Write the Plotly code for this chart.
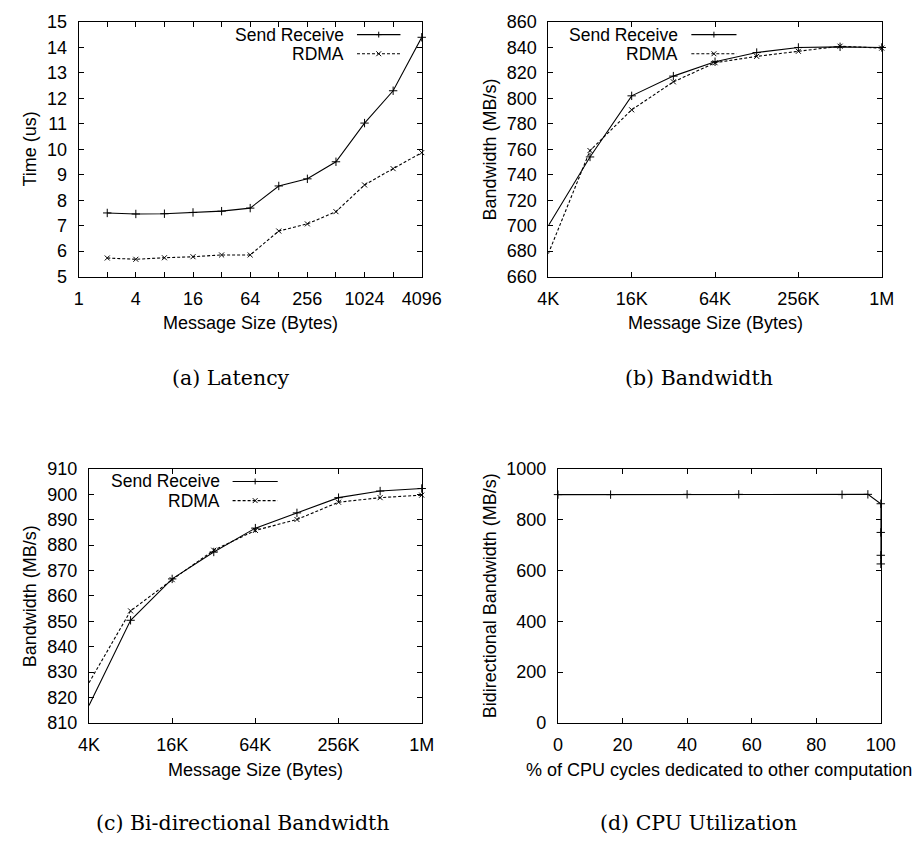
import math
import plotly.graph_objects as go

W, H = 923, 852

# ---------------- data ----------------
lat_sizes = [2, 4, 8, 16, 32, 64, 128, 256, 512, 1024, 2048, 4096]
lat_sendrecv = [7.50, 7.46, 7.47, 7.52, 7.57, 7.69, 8.56, 8.84, 9.51, 11.03, 12.30, 14.40]
lat_rdma = [5.73, 5.68, 5.74, 5.78, 5.85, 5.85, 6.79, 7.07, 7.55, 8.60, 9.24, 9.87]

bw_sizes = [4096, 8192, 16384, 32768, 65536, 131072, 262144, 524288, 1048576]
bw_sendrecv = [700, 754, 802, 817.5, 828.8, 836, 840, 840.5, 840]
bw_rdma = [678, 759, 791, 813, 828, 833, 837, 841, 839.5]

bibw_sendrecv = [816.8, 850.4, 866.7, 877.3, 886.7, 892.7, 898.7, 901.3, 902.3]
bibw_rdma = [825.8, 854.1, 866.4, 878.0, 885.8, 890.1, 896.9, 898.7, 899.7]

cpu_pct = [0, 16.3, 40, 56, 88, 96, 100, 100, 100, 100]
cpu_bibw = [899, 899, 900, 900, 899, 900, 863, 750, 660, 626]

lat_tickvals = [1, 2, 4, 8, 16, 32, 64, 128, 256, 512, 1024, 2048, 4096]
lat_ticktext = ["1", "", "4", "", "16", "", "64", "", "256", "", "1024", "", "4096"]
bw_tickvals = [4096, 16384, 65536, 262144, 1048576]
bw_ticktext = ["4K", "16K", "64K", "256K", "1M"]

series_names = ["Send Receive", "RDMA"]
captions = ["(a) Latency", "(b) Bandwidth", "(c) Bi-directional Bandwidth", "(d) CPU Utilization"]

# ---------------- layout helpers ----------------
def px(x):
    return x / W

def py(y):
    return 1 - y / H

SANS = "Liberation Sans, Arial, Helvetica, sans-serif"
SERIF = "DejaVu Serif, Liberation Serif, serif"
FS = 18

fig = go.Figure()

line_sr = dict(color="black", width=1.1)
line_rd = dict(color="black", width=1.1, dash="3px,2px")
mk_sr = dict(symbol="cross-thin-open", size=6, color="black", line=dict(color="black", width=1))
mk_rd = dict(symbol="x-thin-open", size=5, color="black", line=dict(color="black", width=1))

def add_pair(x, y1, y2, xa, ya):
    fig.add_trace(go.Scatter(x=x, y=y1, mode="lines+markers", line=line_sr, marker=mk_sr,
                             name=series_names[0], xaxis=xa, yaxis=ya, cliponaxis=False, showlegend=False))
    fig.add_trace(go.Scatter(x=x, y=y2, mode="lines+markers", line=line_rd, marker=mk_rd,
                             name=series_names[1], xaxis=xa, yaxis=ya, cliponaxis=False, showlegend=False))

add_pair(lat_sizes, lat_sendrecv, lat_rdma, "x", "y")
add_pair(bw_sizes, bw_sendrecv, bw_rdma, "x2", "y2")
add_pair(bw_sizes, bibw_sendrecv, bibw_rdma, "x3", "y3")
fig.add_trace(go.Scatter(x=cpu_pct, y=cpu_bibw, mode="lines+markers", line=line_sr, marker=mk_sr,
                         xaxis="x4", yaxis="y4", cliponaxis=False, showlegend=False))

# plot rectangles in pixels: (left, right, top, bottom)
rects = {
    1: (70, 425, 12.3, 273),
    2: (556, 901, 12.3, 273),
    3: (80.7, 425, 470, 730),
    4: (566, 900, 470, 730),
}

common = dict(showline=True, linecolor="black", linewidth=1, mirror="ticks",
              ticks="inside", ticklen=5, tickwidth=1, tickcolor="black",
              showgrid=False, zeroline=False,
              tickfont=dict(family=SANS, size=FS, color="black"))

def xdom(i):
    l, r, t, b = rects[i]
    return [px(l), px(r)]

def ydom(i):
    l, r, t, b = rects[i]
    return [py(b), py(t)]

XS, YS = 6, 7
lay = {}
lay["xaxis"] = dict(common, domain=xdom(1), anchor="y", type="log", range=[0, math.log10(4096)],
                    tickmode="array", tickvals=lat_tickvals, ticktext=lat_ticktext, ticklabelstandoff=XS)
lay["yaxis"] = dict(common, domain=ydom(1), anchor="x", range=[5, 15], dtick=1, ticklabelstandoff=YS)
lay["xaxis2"] = dict(common, domain=xdom(2), anchor="y2", type="log",
                     range=[math.log10(4096), math.log10(1048576)],
                     tickmode="array", tickvals=bw_tickvals, ticktext=bw_ticktext, ticklabelstandoff=XS)
lay["yaxis2"] = dict(common, domain=ydom(2), anchor="x2", range=[660, 860], dtick=20, ticklabelstandoff=YS)
lay["xaxis3"] = dict(common, domain=xdom(3), anchor="y3", type="log",
                     range=[math.log10(4096), math.log10(1048576)],
                     tickmode="array", tickvals=bw_tickvals, ticktext=bw_ticktext, ticklabelstandoff=XS)
lay["yaxis3"] = dict(common, domain=ydom(3), anchor="x3", range=[810, 910], dtick=10, ticklabelstandoff=YS)
lay["xaxis4"] = dict(common, domain=xdom(4), anchor="y4", range=[0, 100], dtick=20, ticklabelstandoff=XS)
lay["yaxis4"] = dict(common, domain=ydom(4), anchor="x4", range=[0, 1000], dtick=200, ticklabelstandoff=YS)

annotations = []
def text(x, y, s, xanchor="center", angle=0, family=SANS, size=FS):
    annotations.append(dict(x=px(x), y=py(y), xref="paper", yref="paper", text=s, showarrow=False,
                            xanchor=xanchor, yanchor="middle", textangle=angle,
                            font=dict(family=family, size=size, color="black")))

# axis titles
text(247.5, 321, "Message Size (Bytes)")
text(20, 142.5, "Time (us)", angle=-90)
text(728.5, 321, "Message Size (Bytes)")
text(496, 142.5, "Bandwidth (MB/s)", angle=-90)
text(253, 778, "Message Size (Bytes)")
text(20, 600, "Bandwidth (MB/s)", angle=-90)
text(733, 778, "% of CPU cycles dedicated to other computation")
text(496, 600, "Bidirectional Bandwidth (MB/s)", angle=-90)

# captions
text(228, 377, captions[0], family=SERIF, size=20.5)
text(712, 377, captions[1], family=SERIF, size=20.5)
text(240, 833, captions[2], family=SERIF, size=20.5)
text(711, 833, captions[3], family=SERIF, size=20.5)

# gnuplot-style legends: text right-aligned, sample to the right
shapes = []
def legend(text_right, y0, samp_l, samp_r, dy=19.6):
    for k, nm in enumerate(series_names):
        yy = y0 + k * dy
        text(text_right, yy, nm, xanchor="right", size=17.5)
        ln = dict(color="black", width=1.1)
        if k == 1:
            ln["dash"] = "3px,2px"
        shapes.append(dict(type="line", xref="paper", yref="paper",
                           x0=px(samp_l), x1=px(samp_r), y0=py(yy), y1=py(yy), line=ln))
        cx = (samp_l + samp_r) / 2
        s = 3.0 if k == 0 else 2.5
        if k == 0:
            segs = [((cx - s, yy), (cx + s, yy)), ((cx, yy - s), (cx, yy + s))]
        else:
            segs = [((cx - s, yy - s), (cx + s, yy + s)), ((cx - s, yy + s), (cx + s, yy - s))]
        for (a, b) in segs:
            shapes.append(dict(type="line", xref="paper", yref="paper",
                               x0=px(a[0]), y0=py(a[1]), x1=px(b[0]), y1=py(b[1]),
                               line=dict(color="black", width=1)))

legend(347, 25.2, 358, 403)
legend(692.7, 25.2, 704, 750.7)
legend(218.3, 482.8, 229.3, 276)

fig.update_layout(**lay)
fig.update_layout(width=W, height=H, margin=dict(l=0, r=0, t=0, b=0),
                  paper_bgcolor="white", plot_bgcolor="white",
                  annotations=annotations, shapes=shapes, showlegend=False)

fig.write_html("out.html", config={"displayModeBar": False},
               post_script="document.body.style.margin='0';document.body.style.overflow='hidden';")
